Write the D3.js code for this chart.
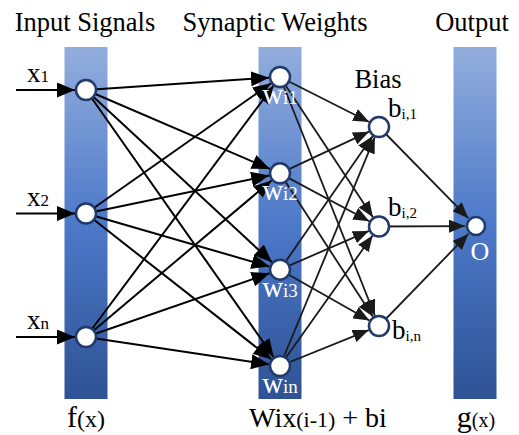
<!DOCTYPE html>
<html>
<head>
<meta charset="utf-8">
<script src="https://cdn.jsdelivr.net/npm/d3@7/dist/d3.min.js"></script>
<style>
  body { margin: 0; background: #fff; }
  svg { display: block; font-family: "Liberation Serif", "Times New Roman", serif; }
</style>
</head>
<body>
<div id="chart"></div>
<script>
// layers and their nodes
var layers = ["input", "weight", "bias", "output"];
var inputNodes = ["x1", "x2", "xn"];
var weightNodes = ["wi1", "wi2", "wi3", "win"];
var biasNodes = ["bi1", "bi2", "bin"];
var outputNodes = ["O"];

var inputLabels = [["x", "1"], ["x", "2"], ["x", "n"]];
var weightLabels = [["w", "i1"], ["w", "i2"], ["w", "i3"], ["w", "in"]];
var biasLabels = [["b", "i,1"], ["b", "i,2"], ["b", "i,n"]];
var outputLabels = [["O", ""]];

var headers = ["Input Signals", "Synaptic Weights", "Bias", "Output"];
var footers = [[["f", 30], ["(x)", 24]], [["Wix", 28], ["(i-1)", 22], [" + bi", 28]], [], [["g", 30], ["(x)", 20]]];

var width = 519, height = 435;

var svg = d3.select('#chart').append('svg')
    .attr('width', width)
    .attr('height', height);

var defs = svg.append('defs');
var grad = defs.append('linearGradient')
    .attr('id', 'barGrad')
    .attr('x1', 0).attr('y1', 0).attr('x2', 0).attr('y2', 1);
grad.append('stop').attr('offset', '0%').attr('stop-color', '#93aedd');
grad.append('stop').attr('offset', '50%').attr('stop-color', '#4d79c9');
grad.append('stop').attr('offset', '100%').attr('stop-color', '#2e5294');

function marker(id, len, w, col) {
    defs.append('marker')
        .attr('id', id)
        .attr('markerUnits', 'userSpaceOnUse')
        .attr('viewBox', `0 ${-w/2} ${len} ${w}`)
        .attr('refX', len).attr('refY', 0)
        .attr('markerWidth', len).attr('markerHeight', w)
        .attr('orient', 'auto')
        .append('path')
        .attr('d', `M0,${-w/2}L${len},0L0,${w/2}Z`)
        .attr('fill', col);
}
marker('arrBig', 18, 15, '#000');
marker('arrMid', 16, 13, '#1a1a1a');

// x of each layer column
var x = d3.scaleOrdinal().domain(layers).range([86, 280, 379, 476]);
// y of nodes inside each layer
var yIn = d3.scalePoint().domain(inputNodes).range([90, 337]);
var yW = d3.scalePoint().domain(weightNodes).range([77, 366]);
var yB = d3.scalePoint().domain(biasNodes).range([127, 326]);
var yO = d3.scalePoint().domain(outputNodes).range([226, 226]).padding(0.5);

// bars
var barTop = 47, barBottom = 399, barW = 43;
svg.selectAll('rect.bar')
    .data(["input", "weight", "output"])
    .enter().append('rect')
    .attr('class', 'bar')
    .attr('x', d => x(d) - barW / 2 + (d == "output" ? -1 : 0))
    .attr('y', barTop)
    .attr('width', barW)
    .attr('height', barBottom - barTop)
    .attr('fill', 'url(#barGrad)');

var rNode = 10;
function pt(layer, id) {
    var s = layer == "input" ? yIn : layer == "weight" ? yW : layer == "bias" ? yB : yO;
    return { x: x(layer), y: s(id) };
}

// build links
var links = [];
inputNodes.forEach(a => weightNodes.forEach(b => links.push({ s: pt("input", a), t: pt("weight", b), m: 'arrBig', w: 2, c: '#000' })));
weightNodes.forEach(a => biasNodes.forEach(b => links.push({ s: pt("weight", a), t: pt("bias", b), m: 'arrMid', w: 1.8, c: '#1a1a1a' })));
biasNodes.forEach(a => outputNodes.forEach(b => links.push({ s: pt("bias", a), t: pt("output", b), m: 'arrMid', w: 1.8, c: '#1a1a1a' })));

svg.selectAll('line.link')
    .data(links)
    .enter().append('line')
    .attr('class', 'link')
    .attr('x1', d => d.s.x).attr('y1', d => d.s.y)
    .attr('x2', d => {
        var dx = d.t.x - d.s.x, dy = d.t.y - d.s.y, L = Math.hypot(dx, dy);
        return d.t.x - dx / L * (rNode + 1);
    })
    .attr('y2', d => {
        var dx = d.t.x - d.s.x, dy = d.t.y - d.s.y, L = Math.hypot(dx, dy);
        return d.t.y - dy / L * (rNode + 1);
    })
    .attr('stroke', d => d.c)
    .attr('stroke-width', d => d.w)
    .attr('marker-end', d => `url(#${d.m})`);

// input arrows
svg.selectAll('line.inArrow')
    .data(inputNodes)
    .enter().append('line')
    .attr('class', 'inArrow')
    .attr('x1', 16).attr('y1', d => yIn(d))
    .attr('x2', d => x("input") - rNode - 1).attr('y2', d => yIn(d))
    .attr('stroke', '#000').attr('stroke-width', 2)
    .attr('marker-end', 'url(#arrBig)');

// nodes
var allNodes = []
    .concat(inputNodes.map(d => pt("input", d)))
    .concat(weightNodes.map(d => pt("weight", d)))
    .concat(biasNodes.map(d => pt("bias", d)))
    .concat(outputNodes.map(d => Object.assign(pt("output", d), { r: 9 })));

svg.selectAll('circle.node')
    .data(allNodes)
    .enter().append('circle')
    .attr('class', 'node')
    .attr('cx', d => d.x).attr('cy', d => d.y)
    .attr('r', d => d.r || rNode)
    .attr('fill', '#fff')
    .attr('stroke', '#1f3a6b')
    .attr('stroke-width', 2.5);

// label helper: big text + smaller tail
function twoPart(g, main, sub, mainSize, subSize, fill, subDy) {
    var t = g.append('text').attr('fill', fill);
    t.append('tspan').attr('font-size', mainSize).text(main);
    if (sub) t.append('tspan').attr('font-size', subSize).attr('dy', subDy || 0).text(sub);
    return t;
}

// input labels
inputNodes.forEach((d, i) => {
    twoPart(svg, inputLabels[i][0], inputLabels[i][1], 27, 17, '#000')
        .attr('x', 27).attr('y', yIn(d) - 8);
});

// weight labels (white, under the node)
weightNodes.forEach((d, i) => {
    twoPart(svg, weightLabels[i][0], weightLabels[i][1], 29, 19, '#fff')
        .attr('x', x("weight")).attr('y', yW(d) + 27)
        .attr('text-anchor', 'middle');
});

// bias labels
var biasOff = [[9, -10], [9, -11], [13, 13]];
biasNodes.forEach((d, i) => {
    twoPart(svg, biasLabels[i][0], biasLabels[i][1], 27, 15, '#000', 2)
        .attr('x', x("bias") + biasOff[i][0]).attr('y', yB(d) + biasOff[i][1]);
});

// output label
outputNodes.forEach((d, i) => {
    twoPart(svg, outputLabels[i][0], outputLabels[i][1], 26, 16, '#fff')
        .attr('x', x("output") + 4).attr('y', yO(d) + 34)
        .attr('text-anchor', 'middle');
});

// headers
var headerPos = [[85, 31], [275, 31], [378, 88], [472, 31]];
svg.selectAll('text.header')
    .data(headers)
    .enter().append('text')
    .attr('class', 'header')
    .attr('x', (d, i) => headerPos[i][0])
    .attr('y', (d, i) => headerPos[i][1])
    .attr('text-anchor', 'middle')
    .attr('font-size', 26.5)
    .attr('fill', '#000')
    .text(d => d);

// footers
var footerX = [86, 318, 0, 476];
footers.forEach((parts, i) => {
    if (!parts.length) return;
    var t = svg.append('text')
        .attr('x', footerX[i]).attr('y', 427)
        .attr('text-anchor', 'middle')
        .attr('fill', '#000');
    parts.forEach(p => t.append('tspan').attr('font-size', p[1]).text(p[0]));
});
</script>
</body>
</html>
